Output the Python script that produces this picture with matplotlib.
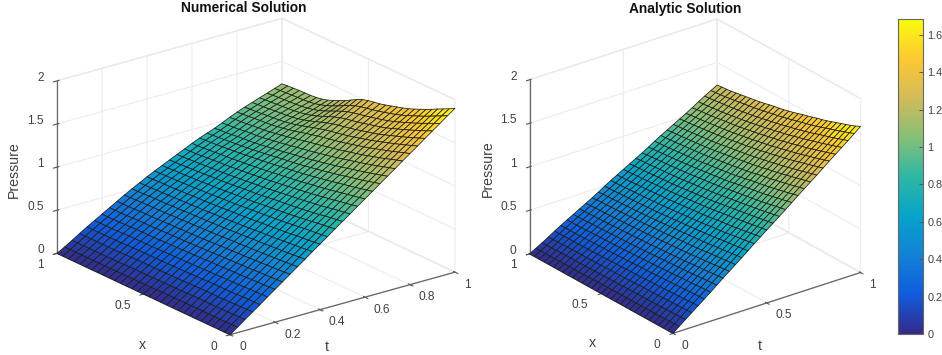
import numpy as np
import matplotlib
matplotlib.use('Agg')
import matplotlib.pyplot as plt
from matplotlib.colors import LinearSegmentedColormap, Normalize
from matplotlib.cm import ScalarMappable
from mpl_toolkits.mplot3d import proj3d

plt.rcParams['font.family'] = ['Liberation Sans', 'DejaVu Sans']
plt.rcParams['grid.color'] = '#ececec'
plt.rcParams['grid.linewidth'] = 0.8

# mesh coordinates, 30 cells each way
t_values = [i / 30 for i in range(31)]
x_values = [j / 30 for j in range(31)]

# pressure x 100, one row per t, one column per x
numerical_rows = [
    [0, 0, 0, 0, 0, 0, 0, 0, 0, 0, 0, 0, 0, 0, 0, 0, 0, 0, 0, 0, 0, 0, 0, 0, 0, 0, 0, 0, 0, 0, 0],
    [6, 6, 6, 6, 6, 6, 6, 6, 6, 6, 6, 6, 6, 6, 6, 5, 5, 5, 5, 5, 5, 5, 5, 5, 5, 5, 5, 5, 5, 5, 5],
    [13, 13, 12, 12, 12, 12, 12, 12, 12, 12, 11, 11, 11, 11, 11, 11, 11, 11, 11, 11, 11, 10, 10, 10, 10, 10, 10, 10, 10, 10, 10],
    [19, 19, 19, 19, 18, 18, 18, 18, 18, 18, 18, 18, 17, 17, 17, 17, 17, 17, 17, 17, 17, 17, 16, 16, 16, 16, 16, 16, 16, 16, 16],
    [25, 25, 25, 25, 24, 24, 24, 24, 24, 24, 23, 23, 23, 23, 23, 23, 22, 22, 22, 22, 22, 22, 22, 22, 21, 21, 21, 21, 21, 21, 21],
    [32, 31, 31, 31, 31, 30, 30, 30, 30, 29, 29, 29, 29, 28, 28, 28, 28, 28, 28, 27, 27, 27, 27, 27, 27, 27, 26, 26, 26, 26, 26],
    [38, 38, 37, 37, 37, 36, 36, 36, 35, 35, 35, 35, 34, 34, 34, 34, 33, 33, 33, 33, 32, 32, 32, 32, 32, 32, 31, 31, 31, 31, 31],
    [44, 44, 43, 43, 43, 42, 42, 42, 41, 41, 41, 40, 40, 40, 39, 39, 39, 38, 38, 38, 38, 38, 37, 37, 37, 37, 37, 36, 36, 36, 36],
    [51, 50, 50, 49, 49, 48, 48, 47, 47, 47, 46, 46, 46, 45, 45, 44, 44, 44, 44, 43, 43, 43, 43, 42, 42, 42, 42, 41, 41, 41, 41],
    [57, 56, 56, 55, 55, 54, 54, 53, 53, 52, 52, 52, 51, 51, 50, 50, 50, 49, 49, 49, 48, 48, 48, 47, 47, 47, 47, 47, 46, 46, 46],
    [63, 63, 62, 61, 61, 60, 60, 59, 59, 58, 58, 57, 57, 56, 56, 55, 55, 55, 54, 54, 54, 53, 53, 53, 52, 52, 52, 52, 51, 51, 51],
    [70, 69, 68, 67, 67, 66, 65, 65, 64, 64, 63, 62, 62, 61, 61, 60, 60, 59, 59, 58, 58, 58, 57, 57, 57, 56, 56, 56, 55, 55, 55],
    [76, 75, 74, 74, 73, 72, 71, 71, 70, 69, 69, 68, 67, 67, 66, 66, 65, 65, 64, 64, 63, 63, 63, 62, 62, 61, 61, 61, 61, 60, 60],
    [82, 81, 80, 80, 79, 78, 77, 76, 75, 75, 74, 73, 73, 72, 71, 71, 70, 69, 69, 68, 68, 67, 67, 66, 66, 66, 65, 65, 65, 64, 64],
    [89, 88, 87, 86, 85, 84, 83, 82, 81, 80, 79, 78, 78, 77, 76, 75, 75, 74, 74, 73, 72, 72, 71, 71, 70, 70, 69, 69, 69, 68, 68],
    [95, 94, 93, 92, 90, 89, 88, 87, 86, 85, 85, 84, 83, 82, 81, 80, 80, 79, 78, 77, 77, 76, 76, 75, 75, 74, 74, 73, 73, 72, 72],
    [101, 100, 99, 98, 96, 95, 94, 93, 92, 91, 90, 89, 88, 87, 86, 85, 84, 84, 83, 82, 81, 81, 80, 79, 79, 78, 78, 77, 77, 76, 76],
    [108, 106, 105, 104, 102, 101, 100, 98, 97, 96, 95, 94, 93, 92, 91, 90, 89, 88, 87, 87, 86, 85, 84, 84, 83, 83, 82, 81, 81, 80, 80],
    [114, 112, 111, 110, 108, 107, 105, 104, 103, 102, 100, 99, 98, 97, 96, 95, 94, 93, 92, 91, 90, 90, 89, 88, 87, 87, 86, 85, 85, 84, 84],
    [120, 119, 117, 115, 114, 113, 111, 110, 108, 107, 106, 104, 103, 102, 101, 100, 99, 98, 97, 96, 95, 94, 93, 92, 92, 91, 90, 90, 89, 88, 88],
    [127, 125, 123, 121, 120, 118, 116, 115, 113, 112, 110, 109, 108, 106, 105, 104, 103, 102, 101, 100, 99, 98, 97, 96, 95, 94, 94, 93, 92, 92, 91],
    [133, 131, 129, 127, 125, 124, 122, 120, 118, 117, 115, 114, 112, 111, 109, 108, 107, 106, 104, 103, 102, 101, 100, 99, 98, 98, 97, 96, 95, 95, 94],
    [139, 137, 135, 133, 131, 129, 127, 126, 124, 122, 120, 119, 117, 116, 114, 113, 112, 110, 109, 108, 107, 105, 104, 103, 102, 102, 101, 100, 99, 99, 98],
    [146, 144, 142, 139, 137, 135, 133, 131, 129, 128, 126, 124, 123, 121, 120, 118, 117, 116, 114, 112, 111, 110, 109, 107, 106, 106, 105, 104, 103, 103, 102],
    [152, 150, 147, 145, 143, 141, 139, 136, 134, 133, 131, 129, 128, 126, 125, 124, 122, 120, 119, 117, 115, 114, 112, 111, 110, 109, 109, 108, 107, 107, 106],
    [158, 156, 153, 151, 148, 146, 144, 142, 140, 138, 136, 134, 132, 131, 129, 128, 127, 125, 123, 121, 119, 117, 115, 114, 113, 112, 112, 111, 110, 110, 109],
    [165, 162, 159, 157, 154, 152, 149, 147, 144, 142, 141, 139, 137, 136, 134, 133, 131, 129, 127, 124, 122, 120, 118, 117, 116, 115, 115, 114, 113, 113, 112],
    [171, 168, 165, 162, 159, 157, 154, 152, 149, 147, 146, 144, 142, 140, 139, 138, 136, 134, 131, 128, 125, 123, 121, 120, 119, 118, 118, 117, 116, 116, 115],
    [177, 174, 171, 168, 165, 162, 159, 157, 154, 152, 150, 148, 147, 145, 144, 142, 141, 138, 135, 132, 129, 126, 124, 123, 121, 121, 120, 120, 119, 119, 118],
    [184, 181, 177, 174, 170, 168, 165, 162, 159, 157, 155, 153, 151, 150, 148, 147, 145, 142, 139, 135, 132, 129, 127, 125, 124, 124, 123, 123, 122, 122, 121],
    [190, 186, 183, 180, 176, 173, 170, 167, 164, 162, 160, 158, 156, 154, 153, 152, 150, 147, 143, 139, 136, 133, 130, 128, 127, 126, 126, 126, 125, 125, 124],
]
analytic_rows = [
    [0, 0, 0, 0, 0, 0, 0, 0, 0, 0, 0, 0, 0, 0, 0, 0, 0, 0, 0, 0, 0, 0, 0, 0, 0, 0, 0, 0, 0, 0, 0],
    [6, 6, 5, 5, 5, 5, 5, 5, 5, 5, 5, 5, 5, 5, 5, 5, 5, 5, 5, 4, 4, 4, 4, 4, 4, 4, 4, 4, 4, 4, 4],
    [11, 11, 11, 11, 11, 10, 10, 10, 10, 10, 10, 10, 10, 10, 9, 9, 9, 9, 9, 9, 9, 9, 9, 9, 9, 9, 8, 8, 8, 8, 8],
    [17, 17, 16, 16, 16, 16, 16, 15, 15, 15, 15, 15, 14, 14, 14, 14, 14, 14, 14, 13, 13, 13, 13, 13, 13, 13, 13, 13, 13, 12, 12],
    [22, 22, 22, 21, 21, 21, 21, 20, 20, 20, 20, 19, 19, 19, 19, 19, 18, 18, 18, 18, 18, 18, 17, 17, 17, 17, 17, 17, 17, 17, 17],
    [28, 28, 27, 27, 27, 26, 26, 26, 25, 25, 25, 24, 24, 24, 24, 23, 23, 23, 23, 22, 22, 22, 22, 22, 22, 21, 21, 21, 21, 21, 21],
    [33, 33, 33, 32, 32, 31, 31, 31, 30, 30, 30, 29, 29, 29, 28, 28, 28, 27, 27, 27, 27, 26, 26, 26, 26, 26, 25, 25, 25, 25, 25],
    [39, 39, 38, 38, 37, 37, 36, 36, 35, 35, 35, 34, 34, 33, 33, 33, 32, 32, 32, 31, 31, 31, 31, 30, 30, 30, 30, 29, 29, 29, 29],
    [45, 44, 44, 43, 42, 42, 41, 41, 40, 40, 39, 39, 39, 38, 38, 37, 37, 37, 36, 36, 36, 35, 35, 35, 34, 34, 34, 34, 33, 33, 33],
    [50, 50, 49, 48, 48, 47, 47, 46, 45, 45, 44, 44, 43, 43, 42, 42, 41, 41, 41, 40, 40, 40, 39, 39, 39, 38, 38, 38, 38, 37, 37],
    [56, 55, 54, 54, 53, 52, 52, 51, 50, 50, 49, 49, 48, 48, 47, 47, 46, 46, 45, 45, 44, 44, 44, 43, 43, 43, 42, 42, 42, 42, 41],
    [61, 61, 60, 59, 58, 58, 57, 56, 55, 55, 54, 54, 53, 52, 52, 51, 51, 50, 50, 49, 49, 48, 48, 48, 47, 47, 47, 46, 46, 46, 45],
    [67, 66, 65, 64, 64, 63, 62, 61, 60, 60, 59, 58, 58, 57, 57, 56, 55, 55, 54, 54, 53, 53, 52, 52, 52, 51, 51, 51, 50, 50, 50],
    [73, 72, 71, 70, 69, 68, 67, 66, 66, 65, 64, 63, 63, 62, 61, 61, 60, 59, 59, 58, 58, 57, 57, 56, 56, 56, 55, 55, 54, 54, 54],
    [78, 77, 76, 75, 74, 73, 72, 71, 71, 70, 69, 68, 67, 67, 66, 65, 65, 64, 63, 63, 62, 62, 61, 61, 60, 60, 59, 59, 59, 58, 58],
    [84, 83, 82, 81, 80, 79, 78, 77, 76, 75, 74, 73, 72, 71, 71, 70, 69, 69, 68, 67, 67, 66, 66, 65, 65, 64, 64, 63, 63, 62, 62],
    [89, 88, 87, 86, 85, 84, 83, 82, 81, 80, 79, 78, 77, 76, 75, 75, 74, 73, 72, 72, 71, 70, 70, 69, 69, 68, 68, 67, 67, 67, 66],
    [95, 94, 92, 91, 90, 89, 88, 87, 86, 85, 84, 83, 82, 81, 80, 79, 78, 78, 77, 76, 75, 75, 74, 74, 73, 73, 72, 72, 71, 71, 70],
    [100, 99, 98, 97, 95, 94, 93, 92, 91, 90, 89, 88, 87, 86, 85, 84, 83, 82, 82, 81, 80, 79, 79, 78, 77, 77, 76, 76, 75, 75, 74],
    [106, 105, 103, 102, 101, 99, 98, 97, 96, 95, 94, 93, 92, 90, 89, 89, 88, 87, 86, 85, 84, 84, 83, 82, 82, 81, 81, 80, 79, 79, 78],
    [112, 110, 109, 107, 106, 105, 103, 102, 101, 100, 99, 97, 96, 95, 94, 93, 92, 91, 91, 90, 89, 88, 87, 87, 86, 85, 85, 84, 84, 83, 83],
    [117, 116, 114, 113, 111, 110, 109, 107, 106, 105, 104, 102, 101, 100, 99, 98, 97, 96, 95, 94, 93, 92, 92, 91, 90, 90, 89, 88, 88, 87, 87],
    [123, 121, 120, 118, 117, 115, 114, 112, 111, 110, 108, 107, 106, 105, 104, 103, 102, 101, 100, 99, 98, 97, 96, 95, 95, 94, 93, 93, 92, 92, 91],
    [128, 127, 125, 123, 122, 120, 119, 117, 116, 115, 113, 112, 111, 109, 108, 107, 106, 105, 104, 103, 102, 101, 100, 100, 99, 98, 98, 97, 96, 96, 95],
    [134, 132, 131, 129, 127, 126, 124, 122, 121, 120, 118, 117, 116, 114, 113, 112, 111, 110, 109, 108, 107, 106, 105, 104, 103, 102, 102, 101, 100, 100, 99],
    [140, 138, 136, 134, 133, 131, 129, 128, 126, 125, 123, 122, 120, 119, 118, 117, 115, 114, 113, 112, 111, 110, 109, 108, 108, 107, 106, 105, 105, 104, 103],
    [145, 143, 141, 140, 138, 136, 134, 133, 131, 130, 128, 127, 125, 124, 123, 121, 120, 119, 118, 117, 115, 114, 114, 113, 112, 111, 110, 109, 109, 108, 107],
    [151, 149, 147, 145, 143, 141, 140, 138, 136, 135, 133, 131, 130, 129, 127, 126, 125, 123, 122, 121, 120, 119, 118, 117, 116, 115, 114, 114, 113, 112, 112],
    [156, 154, 152, 150, 148, 147, 145, 143, 141, 139, 138, 136, 135, 133, 132, 130, 129, 128, 127, 125, 124, 123, 122, 121, 120, 119, 119, 118, 117, 116, 116],
    [162, 160, 158, 156, 154, 152, 150, 148, 146, 144, 143, 141, 140, 138, 137, 135, 134, 133, 131, 130, 129, 128, 127, 126, 125, 124, 123, 122, 121, 121, 120],
    [168, 165, 163, 161, 159, 157, 155, 153, 151, 150, 148, 146, 145, 143, 141, 140, 138, 137, 136, 135, 133, 132, 131, 130, 129, 128, 127, 126, 125, 125, 124],
]

z_ticks = [0, 0.5, 1, 1.5, 2]
x_ticks = [0, 0.5, 1]
t_ticks_left = [0, 0.2, 0.4, 0.6, 0.8, 1]
t_ticks_right = [0, 0.5, 1]
cbar_ticks = [0, 0.2, 0.4, 0.6, 0.8, 1, 1.2, 1.4, 1.6]
cbar_max = 1.685
left_max = 1.9

parula = LinearSegmentedColormap.from_list('parula', [
    '#352a87', '#0f5cdd', '#1481d6', '#06a4ca', '#2eb7a4',
    '#87bf77', '#d1bb59', '#fec832', '#f9fb0e'])

W, H = 942, 355
TEXT = '#404040'


def fmt(v):
    return f'{v:g}'


def soften(rows):
    # the table is rounded to 0.01, take the rounding steps out of the mesh lines
    z = np.array(rows, dtype=float) / 100
    for axis in (0, 1):
        s = z.copy()
        if axis == 0:
            s[1:-1, :] = (z[:-2, :] + 2 * z[1:-1, :] + z[2:, :]) / 4
        else:
            s[:, 1:-1] = (z[:, :-2] + 2 * z[:, 1:-1] + z[:, 2:]) / 4
        z = s
    return z


def label_at(ax, point, text, dx, dy, **kw):
    # text placed at an offset in pixels from a projected 3d point
    px, py, _ = proj3d.proj_transform(*point, ax.get_proj())
    ax.annotate(text, (px, py), xycoords='data', xytext=(dx, -dy), textcoords='offset pixels',
                annotation_clip=False, color=TEXT, va='center', **kw)


def surface_panel(rows, t_ticks, vmax, box_px, elev, azim, zscale, x_dy, x_lab, t_lab, z_lab):
    # box_px = left, bottom, side of the square 3d axes in pixels
    left, bottom, side = box_px
    ax = fig.add_axes([left / W, bottom / H, side / W, side / H], projection='3d')
    ax.set_proj_type('ortho')
    ax.view_init(elev=elev, azim=azim)
    ax.set_box_aspect((1, 1, zscale))
    ax.patch.set_visible(False)

    T, X = np.meshgrid(t_values, x_values, indexing='ij')
    ax.plot_surface(T, X, soften(rows), cmap=parula, vmin=0, vmax=vmax, rstride=1, cstride=1,
                    shade=False, edgecolor='#1c1c1c', linewidth=0.55, antialiased=True)

    ax.set_xlim(0, 1, view_margin=0)
    ax.set_ylim(0, 1, view_margin=0)
    ax.set_zlim(0, 2, view_margin=0)
    ax.set_xticks(t_ticks, [''] * len(t_ticks))
    ax.set_yticks(x_ticks, [''] * len(x_ticks))
    ax.set_zticks(z_ticks, [''] * len(z_ticks))
    ax.tick_params(color='#555555')

    for axis in (ax.xaxis, ax.yaxis, ax.zaxis):
        axis.set_pane_color((1, 1, 1, 1))
        axis.pane.set_edgecolor('#e6e6e6')
        axis.line.set_color('#666666')
        axis.line.set_linewidth(0.9)

    for v in t_ticks:
        label_at(ax, (v, 0, 0), fmt(v), 9, 12.5, ha='left', fontsize=8.6)
    for v in x_ticks:
        label_at(ax, (0, v, 0), fmt(v), -13, x_dy, ha='right', fontsize=8.6)
    for v in z_ticks:
        label_at(ax, (0, 1, v), fmt(v), -13, -3, ha='right', fontsize=8.6)
    label_at(ax, (0, 0.5, 0), 'x', *x_lab, ha='center', fontsize=10.2)
    label_at(ax, (0.5, 0, 0), 't', *t_lab, ha='center', fontsize=10.2)
    label_at(ax, (0, 1, 1), 'Pressure', *z_lab, ha='center', rotation=90, fontsize=10.2)
    return ax


fig = plt.figure(figsize=(W / 100, H / 100), dpi=100)

surface_panel(numerical_rows, t_ticks_left, left_max, (35.7, -41.8, 429), 21.2, -127.56, 0.652,
              12, (-1.5, 51), (-15.5, 44), (-43, 3))
surface_panel(analytic_rows, t_ticks_right, cbar_max, (503, -13.2, 374), 25.1, -127.4, 0.814,
              11.5, (-8.6, 49.5), (-7, 43), (-42, 2))

fig.text(243.8 / W, 1 - 8.5 / H, 'Numerical Solution', ha='center', va='center',
         fontsize=9.9, fontweight='bold', color='#111111')
fig.text(685 / W, 1 - 8.5 / H, 'Analytic Solution', ha='center', va='center',
         fontsize=9.9, fontweight='bold', color='#111111')

# colour bar
cax = fig.add_axes([897.5 / W, (H - 334) / H, 25 / W, 315 / H])
sm = ScalarMappable(norm=Normalize(0, cbar_max), cmap=parula)
cb = fig.colorbar(sm, cax=cax)
cb.set_ticks(cbar_ticks, labels=[fmt(v) for v in cbar_ticks])
cb.ax.tick_params(direction='in', length=3, width=0.7, color='#555555',
                  labelsize=7.8, labelcolor=TEXT, pad=3.5)
cb.outline.set_edgecolor('#666666')
cb.outline.set_linewidth(0.8)

fig.savefig('out.png', dpi=100)
